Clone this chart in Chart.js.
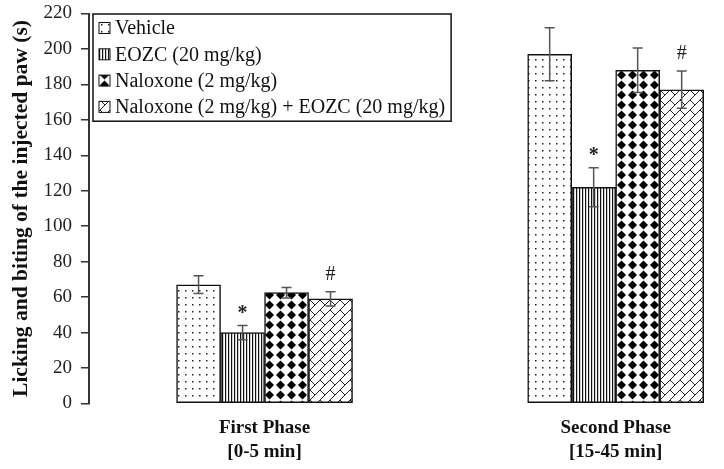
<!DOCTYPE html>
<html lang="en">
<head>
<meta charset="UTF-8">
<title>Licking and biting time</title>
<script src="https://cdn.jsdelivr.net/npm/chart.js"></script>
<style>
  html, body { margin: 0; padding: 0; background: #fff; overflow: hidden; }
</style>
</head>
<body>
<canvas id="chart" width="724" height="469"></canvas>
<script>
// data
const phases = [['First Phase', '[0-5 min]'], ['Second Phase', '[15-45 min]']];
const groups = ['Vehicle', 'EOZC (20 mg/kg)', 'Naloxone (2 mg/kg)', 'Naloxone (2 mg/kg) + EOZC (20 mg/kg)'];
const vehicle = [67, 197];
const vehicleErr = [5, 15];
const eozc = [40, 122];
const eozcErr = [4, 11];
const naloxone = [62.5, 188];
const naloxoneErr = [3, 12.5];
const combo = [59, 177];
const comboErr = [4, 10.5];
const marks = ['', '*', '', '#'];
const yMax = 220;
const yStep = 20;

const serif = "'Liberation Serif', 'Times New Roman', serif";
const ink = '#111';

// fill patterns
function makePattern(kind) {
  const c = document.createElement('canvas');
  const g = c.getContext('2d');
  if (kind === 'dots') {
    c.width = 7; c.height = 7;
    g.fillStyle = '#fff'; g.fillRect(0, 0, 7, 7);
    g.fillStyle = '#222'; g.fillRect(3, 3, 1.5, 1.5);
  } else if (kind === 'vlines') {
    c.width = 3; c.height = 3;
    g.fillStyle = '#fff'; g.fillRect(0, 0, 3, 3);
    g.fillStyle = '#111'; g.fillRect(0, 0, 1.2, 3);
  } else if (kind === 'diamonds') {
    c.width = 11; c.height = 10;
    g.fillStyle = '#fff'; g.fillRect(0, 0, 11, 10);
    g.fillStyle = '#000';
    g.beginPath();
    g.moveTo(5.5, 0.6); g.lineTo(10, 5); g.lineTo(5.5, 9.4); g.lineTo(1, 5);
    g.closePath(); g.fill();
  } else {
    c.width = 10; c.height = 10;
    g.fillStyle = '#fff'; g.fillRect(0, 0, 10, 10);
    g.strokeStyle = '#222'; g.lineWidth = 1;
    g.beginPath();
    g.moveTo(-1, 11); g.lineTo(11, -1);
    g.moveTo(0, 0); g.lineTo(5, 5);
    g.stroke();
  }
  return g.createPattern(c, 'repeat');
}

const series = [
  { values: vehicle, errs: vehicleErr, fill: 'dots' },
  { values: eozc, errs: eozcErr, fill: 'vlines' },
  { values: naloxone, errs: naloxoneErr, fill: 'diamonds' },
  { values: combo, errs: comboErr, fill: 'brick' }
];

const datasets = series.map((s, i) => ({
  label: groups[i],
  data: s.values.map((v, j) => ({ x: j + 1, y: v })),
  errs: s.errs,
  mark: marks[i],
  backgroundColor: makePattern(s.fill),
  borderColor: ink,
  borderWidth: 1.5,
  borderSkipped: false,
  barThickness: 44
}));

// error bars and significance marks
const errorBars = {
  id: 'errorBars',
  afterDatasetsDraw(chart) {
    const ctx = chart.ctx;
    const y = chart.scales.y;
    chart.data.datasets.forEach((ds, i) => {
      const meta = chart.getDatasetMeta(i);
      meta.data.forEach((bar, j) => {
        const v = ds.data[j].y, e = ds.errs[j];
        const top = y.getPixelForValue(v + e);
        const bot = y.getPixelForValue(v - e);
        ctx.save();
        ctx.strokeStyle = '#555';
        ctx.lineWidth = 1.5;
        ctx.beginPath();
        ctx.moveTo(bar.x, top); ctx.lineTo(bar.x, bot);
        ctx.moveTo(bar.x - 5, top); ctx.lineTo(bar.x + 5, top);
        ctx.moveTo(bar.x - 5, bot); ctx.lineTo(bar.x + 5, bot);
        ctx.stroke();
        if (ds.mark) {
          ctx.fillStyle = '#222';
          ctx.textAlign = 'center';
          ctx.textBaseline = 'middle';
          if (ds.mark === '*') {
            ctx.font = 'bold 20px ' + serif;
            ctx.fillText('*', bar.x, top - 12);
          } else {
            ctx.font = '20px ' + serif;
            ctx.fillText(ds.mark, bar.x, top - 17);
          }
        }
        ctx.restore();
      });
    });
  }
};

// boxed legend inside the plot
const boxLegend = {
  id: 'boxLegend',
  afterDraw(chart) {
    const ctx = chart.ctx;
    const area = chart.chartArea;
    const left = area.left + 4, top = area.top + 0.5;
    const rowH = 26.3;
    ctx.save();
    ctx.font = '20px ' + serif;
    const textW = Math.max(...chart.data.datasets.map(d => ctx.measureText(d.label).width));
    const w = 22 + textW + 6, h = rowH * chart.data.datasets.length + 2;
    ctx.fillStyle = '#fff';
    ctx.fillRect(left, top, w, h);
    ctx.strokeStyle = ink;
    ctx.lineWidth = 1.5;
    ctx.strokeRect(left, top, w, h);
    chart.data.datasets.forEach((d, i) => {
      const cy = top + 14 + i * rowH;
      ctx.fillStyle = d.backgroundColor;
      ctx.fillRect(left + 6, cy - 5.5, 11, 11);
      ctx.lineWidth = 1;
      ctx.strokeStyle = ink;
      ctx.strokeRect(left + 6, cy - 5.5, 11, 11);
      ctx.fillStyle = ink;
      ctx.textAlign = 'left';
      ctx.textBaseline = 'middle';
      ctx.fillText(d.label, left + 22, cy + 1);
    });
    ctx.restore();
  }
};

new Chart(document.getElementById('chart'), {
  type: 'bar',
  data: { datasets },
  plugins: [errorBars, boxLegend],
  options: {
    responsive: false,
    devicePixelRatio: 1,
    animation: false,
    layout: { padding: { top: 13.5, right: 3, left: 0, bottom: 0 } },
    plugins: { legend: { display: false }, tooltip: { enabled: false } },
    scales: {
      x: {
        type: 'linear',
        min: 0.5,
        max: 2.3,
        offset: false,
        bounds: 'data',
        grid: { display: false, drawTicks: false },
        border: { display: false },
        afterBuildTicks: s => { s.ticks = phases.map((p, i) => ({ value: i + 1 })); },
        afterFit: s => { s.height = 65.5; },
        ticks: {
          callback: v => phases[v - 1],
          autoSkip: false,
          maxRotation: 0,
          padding: 12,
          color: ink,
          font: { family: serif, size: 19, weight: 'bold', lineHeight: 1.3 }
        }
      },
      y: {
        min: 0,
        max: yMax,
        afterFit: s => { s.width = 89; s.paddingTop = 11; s.paddingBottom = 11; },
        ticks: {
          stepSize: yStep,
          padding: 9,
          color: '#222',
          font: { family: serif, size: 19 }
        },
        grid: { drawOnChartArea: false, tickLength: 8, color: '#333', lineWidth: 1.5 },
        border: { color: '#333', width: 2 },
        title: {
          display: true,
          text: 'Licking and biting of the injected paw (s)',
          color: ink,
          padding: { top: 9, bottom: 0 },
          font: { family: serif, size: 21.5, weight: 'bold' }
        }
      }
    }
  }
});
</script>
</body>
</html>
